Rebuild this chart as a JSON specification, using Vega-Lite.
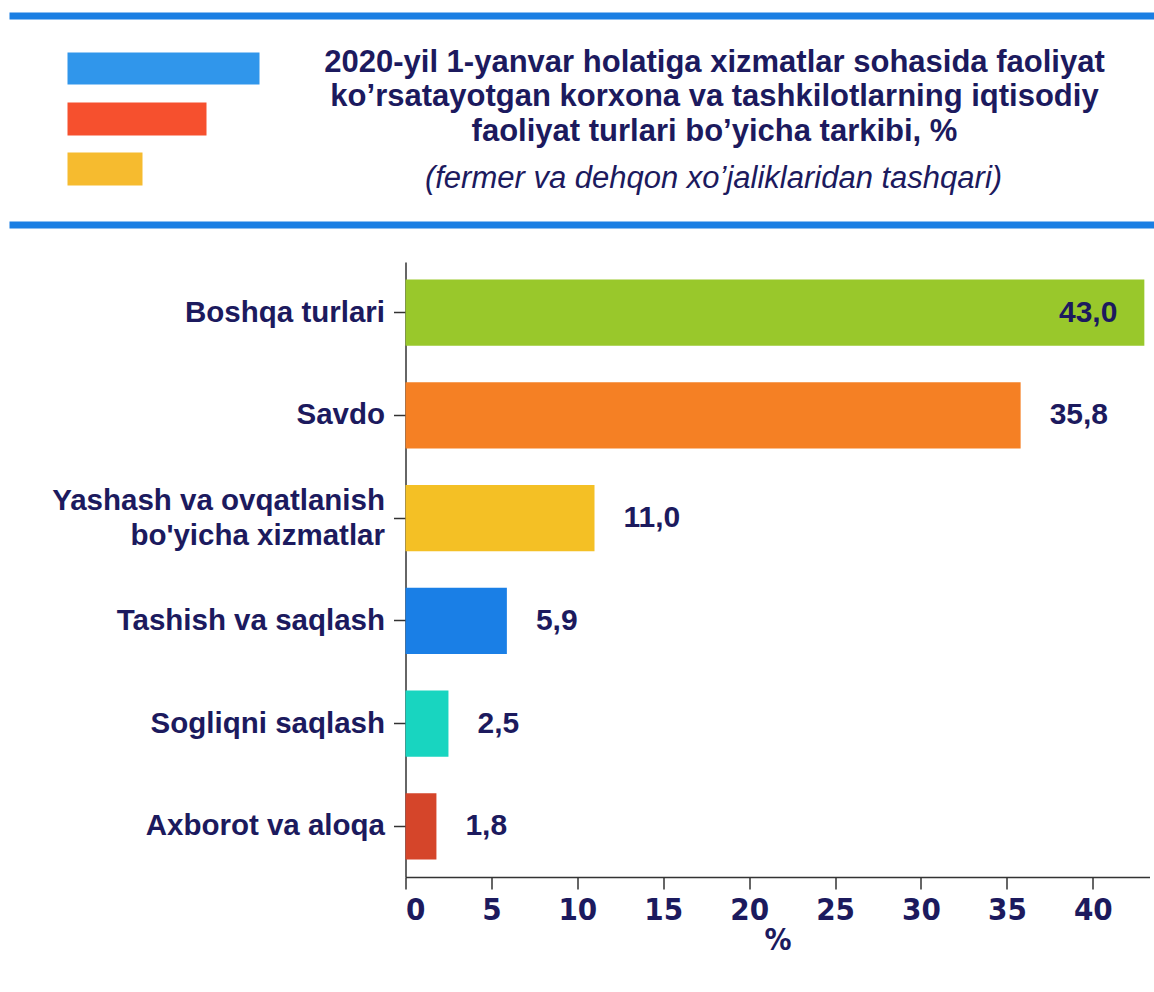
{
  "$schema": "https://vega.github.io/schema/vega-lite/v6.json",
  "padding": {"left": 5.5, "top": 12, "right": 0, "bottom": 0},
  "background": "white",
  "config": {
    "view": {"stroke": null},
    "locale": {"number": {"decimal": ",", "thousands": " ", "grouping": [3], "currency": ["", ""]}}
  },
  "spacing": 37,
  "bounds": "flush",
  "vconcat": [
    {
      "width": 749,
      "height": 209,
      "data": {"values": [{}]},
      "layer": [
        {
          "mark": {"type": "rule", "color": "#1b7fe3", "strokeWidth": 7},
          "encoding": {
            "x": {"datum": 0, "type": "quantitative", "scale": {"domain": [0, 1145], "range": [-396, 749]}, "axis": null},
            "x2": {"datum": 1145},
            "y": {"datum": 0, "type": "quantitative", "scale": {"domain": [0, 209], "range": [0, 209]}, "axis": null}
          }
        },
        {
          "mark": {"type": "rule", "color": "#1b7fe3", "strokeWidth": 7},
          "encoding": {
            "x": {"datum": 0, "type": "quantitative", "scale": {"domain": [0, 1145], "range": [-396, 749]}, "axis": null},
            "x2": {"datum": 1145},
            "y": {"datum": 209, "type": "quantitative", "scale": {"domain": [0, 209], "range": [0, 209]}, "axis": null}
          }
        },
        {
          "mark": {"type": "rect", "color": "#3096eb"},
          "encoding": {
            "x": {"datum": 58, "type": "quantitative", "scale": {"domain": [0, 1145], "range": [-396, 749]}, "axis": null},
            "x2": {"datum": 250},
            "y": {"datum": 36.5, "type": "quantitative", "scale": {"domain": [0, 209], "range": [0, 209]}, "axis": null},
            "y2": {"datum": 68.5}
          }
        },
        {
          "mark": {"type": "rect", "color": "#f6502e"},
          "encoding": {
            "x": {"datum": 58, "type": "quantitative", "scale": {"domain": [0, 1145], "range": [-396, 749]}, "axis": null},
            "x2": {"datum": 197},
            "y": {"datum": 86.5, "type": "quantitative", "scale": {"domain": [0, 209], "range": [0, 209]}, "axis": null},
            "y2": {"datum": 119.5}
          }
        },
        {
          "mark": {"type": "rect", "color": "#f6bb2f"},
          "encoding": {
            "x": {"datum": 58, "type": "quantitative", "scale": {"domain": [0, 1145], "range": [-396, 749]}, "axis": null},
            "x2": {"datum": 133},
            "y": {"datum": 136.5, "type": "quantitative", "scale": {"domain": [0, 209], "range": [0, 209]}, "axis": null},
            "y2": {"datum": 169.5}
          }
        },
        {
          "mark": {
            "type": "text",
            "text": ["2020-yil 1-yanvar holatiga xizmatlar sohasida faoliyat", "ko’rsatayotgan korxona va tashkilotlarning iqtisodiy", "faoliyat turlari bo’yicha tarkibi, %"],
            "font": "Liberation Sans",
            "fontSize": 31,
            "fontWeight": "bold",
            "color": "#1c1a5e",
            "lineHeight": 34.5,
            "align": "center",
            "baseline": "middle"
          },
          "encoding": {
            "x": {"datum": 705, "type": "quantitative", "scale": {"domain": [0, 1145], "range": [-396, 749]}, "axis": null},
            "y": {"datum": 46.5, "type": "quantitative", "scale": {"domain": [0, 209], "range": [0, 209]}, "axis": null}
          }
        },
        {
          "mark": {
            "type": "text",
            "text": "(fermer va dehqon xo’jaliklaridan tashqari)",
            "font": "Liberation Sans",
            "fontSize": 31,
            "fontStyle": "italic",
            "color": "#1c1a5e",
            "align": "center",
            "baseline": "middle"
          },
          "encoding": {
            "x": {"datum": 704, "type": "quantitative", "scale": {"domain": [0, 1145], "range": [-396, 749]}, "axis": null},
            "y": {"datum": 162.5, "type": "quantitative", "scale": {"domain": [0, 209], "range": [0, 209]}, "axis": null}
          }
        }
      ]
    },
    {
      "width": 744,
      "height": 615,
      "data": {
        "values": [
          {"cat": "Boshqa turlari", "v": 43.0},
          {"cat": "Savdo", "v": 35.8},
          {"cat": "Yashash va ovqatlanish bo'yicha xizmatlar", "v": 11.0},
          {"cat": "Tashish va saqlash", "v": 5.9},
          {"cat": "Sogliqni saqlash", "v": 2.5},
          {"cat": "Axborot va aloqa", "v": 1.8}
        ]
      },
      "encoding": {
        "y": {
          "field": "cat",
          "type": "nominal",
          "sort": null,
          "scale": {"paddingInner": 0.355, "paddingOuter": 0.17},
          "axis": {
            "title": null,
            "labelExpr": "split(replace(datum.label, 'ovqatlanish ', 'ovqatlanish|'), '|')",
            "labelFont": "Liberation Sans",
            "labelFontSize": 29.5,
            "labelFontWeight": "bold",
            "labelColor": "#1c1a5e",
            "labelLineHeight": 35,
            "labelLimit": 0,
            "labelPadding": 9,
            "labelOffset": {"condition": {"test": "indexof(datum.value, 'ovqatlanish') >= 0", "value": -17.5}, "value": 0},
            "tickSize": 12,
            "tickColor": "#333333",
            "tickWidth": 1.5,
            "domainColor": "#333333",
            "domainWidth": 1.5
          }
        },
        "x": {
          "field": "v",
          "type": "quantitative",
          "scale": {"domain": [0, 43.3], "nice": false},
          "axis": {
            "values": [0, 5, 10, 15, 20, 25, 30, 35, 40],
            "format": "d",
            "grid": false,
            "title": "%",
            "titleFont": "Liberation Sans Narrow, DejaVu Sans Condensed, sans-serif",
            "titleFontSize": 30,
            "titleFontWeight": "bold",
            "titleColor": "#1c1a5e",
            "titlePadding": 0,
            "labelFont": "Liberation Sans Narrow, DejaVu Sans Condensed, sans-serif",
            "labelFontSize": 31,
            "labelFontWeight": "bold",
            "labelColor": "#1c1a5e",
            "labelPadding": 6,
            "tickSize": 12,
            "tickColor": "#333333",
            "tickWidth": 1.5,
            "domainColor": "#333333",
            "domainWidth": 1.5
          }
        }
      },
      "layer": [
        {
          "mark": {"type": "bar"},
          "encoding": {
            "color": {
              "field": "cat",
              "type": "nominal",
              "scale": {
                "domain": ["Boshqa turlari", "Savdo", "Yashash va ovqatlanish bo'yicha xizmatlar", "Tashish va saqlash", "Sogliqni saqlash", "Axborot va aloqa"],
                "range": ["#99c82b", "#f58024", "#f4c025", "#1a7fe6", "#18d5c0", "#d5452a"]
              },
              "legend": null
            }
          }
        },
        {
          "transform": [{"filter": "datum.v < 40"}],
          "mark": {"type": "text", "align": "left", "dx": 29, "font": "Liberation Sans", "fontSize": 30, "fontWeight": "bold", "color": "#1c1a5e", "baseline": "middle"},
          "encoding": {"text": {"field": "v", "type": "quantitative", "format": ".1f"}}
        },
        {
          "transform": [{"filter": "datum.v >= 40"}],
          "mark": {"type": "text", "align": "right", "dx": -27, "font": "Liberation Sans", "fontSize": 30, "fontWeight": "bold", "color": "#1c1a5e", "baseline": "middle"},
          "encoding": {"text": {"field": "v", "type": "quantitative", "format": ".1f"}}
        }
      ]
    }
  ]
}
